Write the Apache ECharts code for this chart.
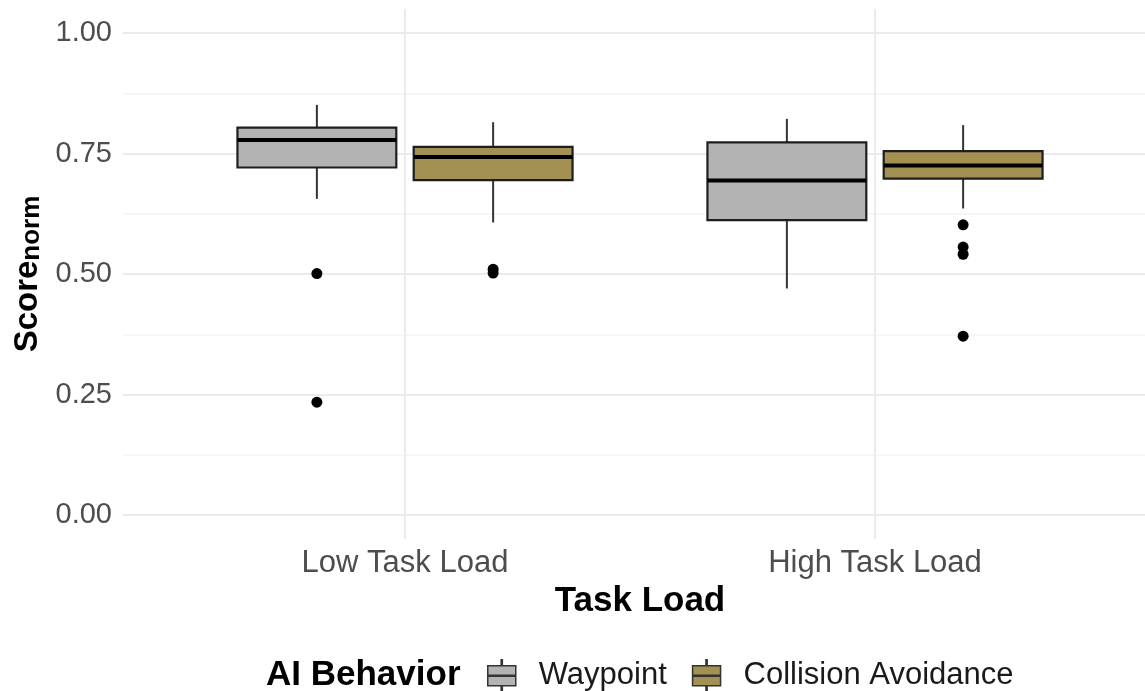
<!DOCTYPE html>
<html>
<head>
<meta charset="utf-8">
<script src="https://cdn.jsdelivr.net/npm/echarts@6/dist/echarts.min.js"></script>
<style>
html,body{margin:0;padding:0;background:#fff;}
#chart{width:1145px;height:691px;}
</style>
</head>
<body>
<div id="chart"></div>
<script>
// ---- data ----
var categories = ['Low Task Load', 'High Task Load'];
var groups = ['Waypoint', 'Collision Avoidance'];
// [min whisker, Q1, median, Q3, max whisker] per category
var waypointStats = [
  [0.656, 0.721, 0.778, 0.804, 0.851],
  [0.470, 0.612, 0.694, 0.773, 0.822]
];
var collisionStats = [
  [0.607, 0.695, 0.743, 0.764, 0.815],
  [0.636, 0.698, 0.725, 0.755, 0.809]
];
var waypointOutliers = [
  [0.501, 0.234],
  []
];
var collisionOutliers = [
  [0.510, 0.502],
  [0.602, 0.556, 0.541, 0.371]
];
var yTicks = [0, 0.25, 0.5, 0.75, 1.0];

// ---- styling / layout constants ----
var FONT = 'Liberation Sans, Arial, Helvetica, sans-serif';
var colors = ['#b3b3b3', '#a39153'];
var dodge = [-0.1875, 0.1875];
var halfBox = 0.169;

function boxData(stats) {
  return stats.map(function (s, i) { return [i + 1].concat(s); });
}
function outlierData(list, off) {
  var out = [];
  list.forEach(function (vals, i) {
    vals.forEach(function (v) { out.push([i + 1 + off, v]); });
  });
  return out;
}
function makeRender(off) {
  return function (params, api) {
    var x = api.value(0) + off;
    var lo = api.value(1), q1 = api.value(2), md = api.value(3), q3 = api.value(4), hi = api.value(5);
    var pL = api.coord([x - halfBox, q3]);
    var pR = api.coord([x + halfBox, q1]);
    var cTop = api.coord([x, hi]);
    var cQ3 = api.coord([x, q3]);
    var cQ1 = api.coord([x, q1]);
    var cLo = api.coord([x, lo]);
    var mL = api.coord([x - halfBox, md]);
    var mR = api.coord([x + halfBox, md]);
    var col = api.visual('color');
    return {
      type: 'group',
      children: [
        {type: 'line', shape: {x1: cTop[0], y1: cTop[1], x2: cQ3[0], y2: cQ3[1]}, style: {stroke: '#333', lineWidth: 2}},
        {type: 'line', shape: {x1: cQ1[0], y1: cQ1[1], x2: cLo[0], y2: cLo[1]}, style: {stroke: '#333', lineWidth: 2}},
        {type: 'rect', shape: {x: pL[0], y: pL[1], width: pR[0] - pL[0], height: pR[1] - pL[1]}, style: {fill: col, stroke: '#1e1e1e', lineWidth: 2.2}},
        {type: 'line', shape: {x1: mL[0], y1: mL[1], x2: mR[0], y2: mR[1]}, style: {stroke: '#000', lineWidth: 4}}
      ]
    };
  };
}

var iconPath = 'path://M13.4,0 L14.6,0 L14.6,6 L28,6 L28,26 L14.6,26 L14.6,32 L13.4,32 L13.4,26 L0,26 L0,6 L13.4,6 Z M0,15.5 L28,15.5 L28,16.5 L0,16.5 Z';

var chart = echarts.init(document.getElementById('chart'), null, {renderer: 'canvas'});
var option = {
  backgroundColor: '#ffffff',
  animation: false,
  textStyle: {fontFamily: FONT},
  grid: [
    {left: 123, right: 0, top: 33, bottom: 176, outerBoundsMode: 'none', containLabel: false},
    {left: -65, width: 1410, top: 9, bottom: 152, outerBoundsMode: 'none', containLabel: false}
  ],
  xAxis: [
    {gridIndex: 0, type: 'value', min: 0, max: 3, show: false},
    {
      gridIndex: 1, type: 'value', min: 0, max: 3, interval: 1,
      axisLine: {show: false}, axisTick: {show: false},
      splitLine: {show: true, lineStyle: {color: '#ebebeb', width: 2}},
      axisLabel: {
        margin: 9, fontSize: 31, color: '#4d4d4d', fontFamily: FONT,
        formatter: function (v) { return categories[Math.round(v) - 1] || ''; }
      },
      name: 'Task Load', nameLocation: 'middle', nameGap: 41,
      nameTextStyle: {fontSize: 35, fontWeight: 'bold', color: '#000', fontFamily: FONT}
    }
  ],
  yAxis: [
    {
      gridIndex: 0, type: 'value', min: yTicks[0], max: yTicks[yTicks.length - 1], interval: 0.25,
      axisLine: {show: false}, axisTick: {show: false},
      axisLabel: {margin: 11, fontSize: 29, color: '#4d4d4d', fontFamily: FONT,
        formatter: function (v) { return v.toFixed(2); }},
      splitLine: {show: true, lineStyle: {color: '#ebebeb', width: 2}},
      minorTick: {show: false, splitNumber: 2},
      minorSplitLine: {show: true, lineStyle: {color: '#f3f3f3', width: 1.5}},
      name: '{b|Score}{s|norm}', nameLocation: 'middle', nameRotate: 90, nameGap: 76,
      nameTextStyle: {
        fontFamily: FONT,
        rich: {
          b: {fontSize: 33, fontWeight: 'bold', color: '#000', fontFamily: FONT},
          s: {fontSize: 26, fontWeight: 'bold', color: '#000', fontFamily: FONT, verticalAlign: 'bottom', padding: [8, 0, 0, 0]}
        }
      }
    },
    {gridIndex: 1, type: 'value', min: -0.05, max: 1.05, show: false}
  ],
  legend: {
    left: 487, top: 659, orient: 'horizontal', padding: 0,
    itemWidth: 28, itemHeight: 32, itemGap: 25,
    data: [
      {name: groups[0], icon: iconPath},
      {name: groups[1], icon: iconPath}
    ],
    itemStyle: {borderColor: '#333', borderWidth: 1.5},
    textStyle: {fontSize: 31, color: '#1a1a1a', fontFamily: FONT, padding: [0, 0, 0, 18]},
    selectedMode: false
  },
  graphic: [
    {type: 'text', x: 266, y: 675, style: {text: 'AI Behavior', fontSize: 35, fontWeight: 'bold', fill: '#000', fontFamily: FONT, verticalAlign: 'middle'}}
  ],
  series: [
    {name: groups[0], type: 'custom', xAxisIndex: 1, yAxisIndex: 1, itemStyle: {color: colors[0]},
      renderItem: makeRender(dodge[0]), encode: {x: 0, y: [1, 2, 3, 4, 5]}, data: boxData(waypointStats)},
    {name: groups[1], type: 'custom', xAxisIndex: 1, yAxisIndex: 1, itemStyle: {color: colors[1]},
      renderItem: makeRender(dodge[1]), encode: {x: 0, y: [1, 2, 3, 4, 5]}, data: boxData(collisionStats)},
    {name: 'Waypoint outliers', type: 'scatter', xAxisIndex: 1, yAxisIndex: 1, symbolSize: 11,
      itemStyle: {color: '#000', opacity: 1}, data: outlierData(waypointOutliers, dodge[0]), z: 5},
    {name: 'Collision Avoidance outliers', type: 'scatter', xAxisIndex: 1, yAxisIndex: 1, symbolSize: 11,
      itemStyle: {color: '#000', opacity: 1}, data: outlierData(collisionOutliers, dodge[1]), z: 5}
  ]
};
chart.setOption(option);
</script>
</body>
</html>
